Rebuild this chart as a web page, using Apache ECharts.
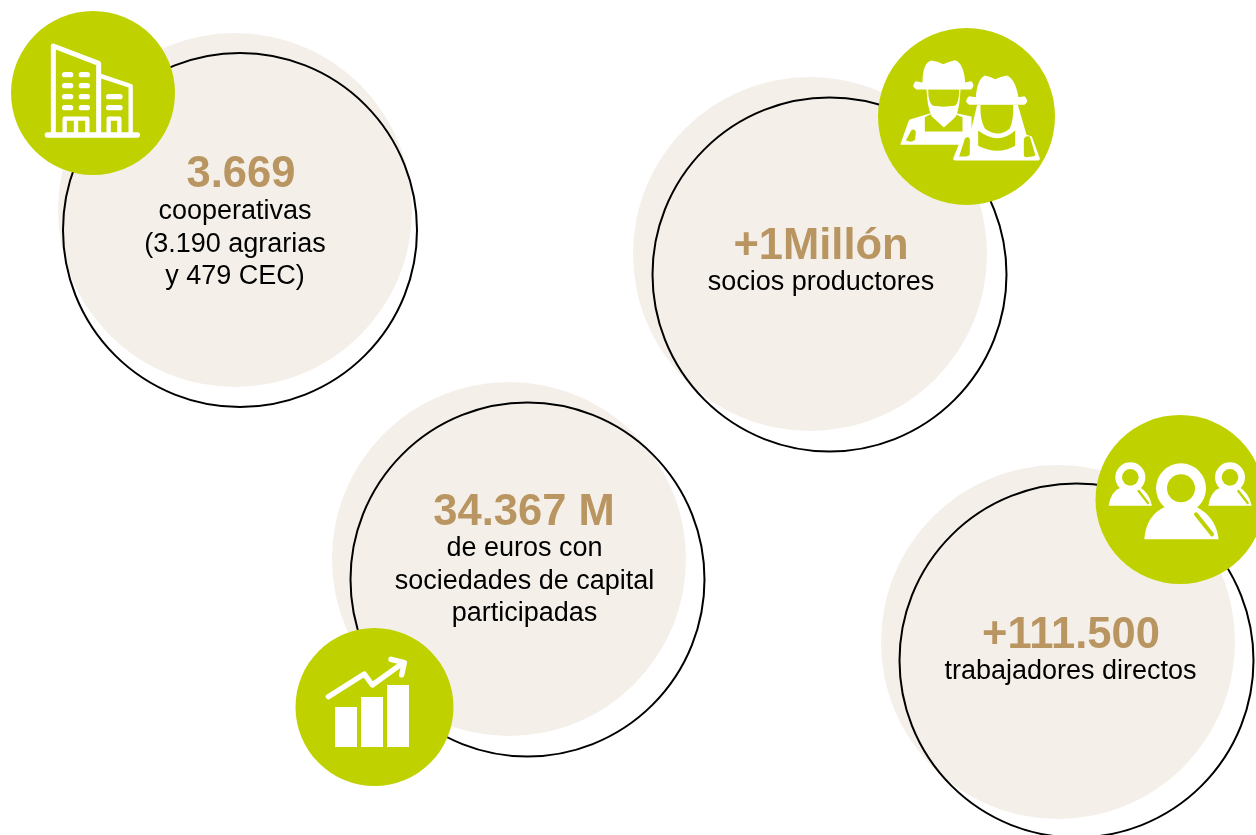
<!DOCTYPE html>
<html>
<head>
<meta charset="utf-8">
<title>Cooperativas</title>
<script src="https://cdn.jsdelivr.net/npm/echarts@6/dist/echarts.min.js"></script>
<style>
    html, body { margin: 0; padding: 0; background: #fff; }
    #main { width: 1256px; height: 835px; }
</style>
</head>
<body>
<div id="main"></div>
<script>
// textos de cada circulo
var statValues = ['3.669', '+1Millón', '34.367 M', '+111.500'];
var statLabels = [
    ['cooperativas', '(3.190 agrarias', 'y 479 CEC)'],
    ['socios productores'],
    ['de euros con', 'sociedades de capital', 'participadas'],
    ['trabajadores directos']
];

// colocacion (pixeles de la pagina), aparte de los textos
var beigeCenters = [[235, 210], [810, 254], [509, 559], [1058, 642]];
var ringCenters = [[240, 230], [829.5, 274.5], [527.5, 579.5], [1076.5, 660.5]];
var badgeCenters = [[93, 93], [966.5, 116.5], [374.5, 707], [1180, 499.5]];
var badgeRadius = [82, 88.5, 79, 84.5];
var valueAnchors = [[241, 175], [821, 247], [524, 513], [1071, 636]];
var labelAnchors = [[235, 212], [821, 283], [524.5, 549], [1070.5, 672]];

var GREEN = '#bfd200';
var BEIGE = '#f4f0e9';
var GOLD = '#b99561';
var FONT = '"Liberation Sans", Arial, sans-serif';

function dot(cx, cy, r) {
    return 'M' + (cx - r) + ' ' + cy + 'a' + r + ' ' + r + ' 0 1 0 ' + (2 * r) + ' 0a' + r + ' ' + r + ' 0 1 0 ' + (-2 * r) + ' 0Z';
}
function white(d) { return { d: d, fill: '#fff' }; }
function hole(d) { return { d: d, fill: GREEN }; }
function line(d, w, color) { return { d: d, stroke: color || '#fff', width: w }; }
function pills(y, x0, x1) { return 'M' + x0 + ' ' + y + 'L' + x1 + ' ' + y; }

// iconos dibujados a escala 3x, con su centro en "c"
var icons = [
    {
        c: [279, 279],
        parts: [
            line('M160 400L160 138L296 190L296 400', 15),
            line('M296 226L392 258L392 400', 13),
            line('M142 405L412 405', 16),
            line(pills(224, 194, 212) + pills(224, 244, 262) + pills(257, 194, 212) + pills(257, 244, 262)
                + pills(290, 194, 212) + pills(290, 244, 262) + pills(323, 194, 212) + pills(323, 244, 262), 16),
            line(pills(290, 326, 360) + pills(323, 326, 360), 16),
            line('M194 400L194 356L262 356L262 400M228 356L228 400', 13),
            line('M326 400L326 356L358 356L358 400', 13)
        ]
    },
    {
        c: [290, 290],
        parts: [
            white('M92 372L118 300L182 280L260 280L305 290L305 375L98 375Q90 375 92 372Z'),
            hole('M108 362L124 332Q134 325 138 336L136 358Q132 366 122 366Z'),
            hole('M165 292L180 284L258 284L278 292L278 335L165 335Z'),
            white('M170 208Q172 262 186 290Q204 306 222 323Q242 306 258 290Q270 262 272 208Z'),
            hole('M175 208L268 208Q268 250 255 258Q220 263 190 258Q175 250 175 208Z'),
            white('M158 188Q158 130 184 122Q204 124 220 133Q240 124 256 121Q282 130 286 188L304 184Q318 196 304 209L140 209Q122 197 138 184Z'),
            white('M250 416L274 356L300 345L322 255L444 255L470 345L486 350L510 416Q510 422 505 422L256 422Q249 422 250 416Z'),
            hole('M268 410L285 356Q296 346 300 358L300 404Q296 410 288 410Z'),
            hole('M462 358Q466 346 480 350L496 404Q496 410 488 410L468 412Q462 412 462 404Z'),
            hole('M325 332Q385 378 436 332L436 378Q385 408 325 378Z'),
            hole('M332 255L430 255Q432 300 420 326Q385 356 345 326Q330 300 332 255Z'),
            white('M318 232Q322 178 345 167Q362 170 376 178Q392 170 412 167Q436 178 446 232L464 229Q480 242 464 255L298 255Q280 242 298 229Z')
        ]
    },
    {
        c: [268.5, 261],
        parts: [
            white('M150 261L216 261L216 381L150 381ZM228 231L294 231L294 381L228 381ZM306 195L372 195L372 381L306 381Z'),
            line('M130 230L238 162L262 195L352 130', 16),
            line('M318 118L358 128L350 165', 16)
        ]
    },
    {
        c: [282, 283.5],
        parts: [
            white('M68 302Q74 258 108 246L160 246Q190 262 198 302Z'),
            white(dot(133, 217, 45)),
            hole(dot(133, 217, 25)),
            line('M158 258L186 294', 7, GREEN),
            white('M367 302Q373 258 407 246L459 246Q489 262 497 302Z'),
            white(dot(432, 217, 45)),
            hole(dot(432, 217, 25)),
            line('M457 258L485 294', 7, GREEN),
            white('M175 403Q180 330 238 305L330 305Q390 335 398 403Z'),
            white(dot(285, 250, 75)),
            hole(dot(285, 250, 42)),
            line('M330 328L378 388', 12, GREEN)
        ]
    }
];

// lineas de texto a partir de los arrays
var textRows = [];
statValues.forEach(function (v, i) {
    textRows.push({ pos: valueAnchors[i], text: v, big: true });
    statLabels[i].forEach(function (t, j) {
        textRows.push({ pos: [labelAnchors[i][0], labelAnchors[i][1] + j * 32.3], text: t, big: false });
    });
});

var myChart = echarts.init(document.getElementById('main'));

myChart.setOption({
    animation: false,
    backgroundColor: '#fff',
    grid: { left: 0, right: 0, top: 0, bottom: 0 },
    xAxis: { type: 'value', min: 0, max: 1256, show: false },
    yAxis: { type: 'value', min: 0, max: 835, inverse: true, show: false },
    series: [
        {
            type: 'scatter',
            silent: true,
            z: 1,
            symbolSize: 354,
            itemStyle: { color: BEIGE, opacity: 1 },
            data: beigeCenters
        },
        {
            type: 'scatter',
            silent: true,
            z: 2,
            symbolSize: 354,
            itemStyle: { color: 'rgba(0,0,0,0)', borderColor: '#000', borderWidth: 2, opacity: 1 },
            data: ringCenters
        },
        {
            type: 'scatter',
            silent: true,
            z: 3,
            symbolSize: function (val, params) {
                return badgeRadius[params.dataIndex] * 2;
            },
            itemStyle: { color: GREEN, opacity: 1 },
            data: badgeCenters
        },
        {
            type: 'custom',
            silent: true,
            z: 4,
            data: badgeCenters,
            encode: { x: 0, y: 1 },
            renderItem: function (params, api) {
                var icon = icons[params.dataIndex];
                var p = api.coord([api.value(0), api.value(1)]);
                return {
                    type: 'group',
                    x: p[0] - icon.c[0] / 3,
                    y: p[1] - icon.c[1] / 3,
                    scaleX: 1 / 3,
                    scaleY: 1 / 3,
                    children: icon.parts.map(function (s) {
                        return {
                            type: 'path',
                            shape: { pathData: s.d },
                            style: {
                                fill: s.fill || 'none',
                                stroke: s.stroke || null,
                                lineWidth: s.width || 0,
                                lineCap: 'round',
                                lineJoin: 'round'
                            }
                        };
                    })
                };
            }
        },
        {
            type: 'custom',
            silent: true,
            z: 5,
            data: textRows.map(function (r) { return r.pos; }),
            encode: { x: 0, y: 1 },
            renderItem: function (params, api) {
                var row = textRows[params.dataIndex];
                var p = api.coord([api.value(0), api.value(1)]);
                return {
                    type: 'text',
                    x: p[0],
                    y: p[1],
                    style: {
                        text: row.text,
                        align: 'center',
                        verticalAlign: 'middle',
                        fill: row.big ? GOLD : '#000',
                        fontFamily: FONT,
                        fontWeight: row.big ? 'bold' : 'normal',
                        fontSize: row.big ? 43.5 : 27
                    }
                };
            }
        }
    ]
});
</script>
</body>
</html>
